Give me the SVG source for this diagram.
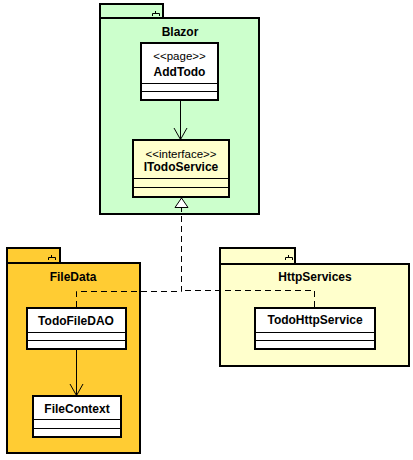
<svg xmlns="http://www.w3.org/2000/svg" width="413" height="460" viewBox="0 0 413 460">
<defs>
<style>
.pkg{stroke:#000;stroke-width:2}
.cls{fill:#fff;stroke:#000;stroke-width:2}
.sep{stroke:#000;stroke-width:1}
.ico{fill:none;stroke:#000;stroke-width:1}
.t{font-family:"Liberation Sans",Arial,sans-serif;font-size:12px;font-weight:bold;text-anchor:middle;fill:#000}
.s{font-family:"Liberation Sans",Arial,sans-serif;font-size:11.5px;text-anchor:middle;fill:#000}
.c{fill:none;stroke:#000;stroke-width:1}
.d{fill:none;stroke:#000;stroke-width:1;stroke-dasharray:6,4}
</style>
</defs>
<rect width="413" height="460" fill="#fff"/>
<g id="Blazor">
<rect class="pkg" x="100" y="4" width="63" height="14" fill="#CCFFCC"/>
<rect class="pkg" x="100" y="18" width="159" height="196" fill="#CCFFCC"/>
<path class="ico" d="M155.5 11V13.5M152.5 16V13.5H159.5V16"/>
<text class="t" x="180" y="36">Blazor</text>
</g>
<g id="FileData">
<rect class="pkg" x="7" y="248" width="53" height="15" fill="#FFCC33"/>
<rect class="pkg" x="7" y="263" width="133" height="190" fill="#FFCC33"/>
<path class="ico" d="M51.5 255V257.5M48.5 260V257.5H55.5V260"/>
<text class="t" x="73" y="281">FileData</text>
</g>
<g id="HttpServices">
<rect class="pkg" x="220" y="248" width="75" height="16" fill="#FFFFCC"/>
<rect class="pkg" x="220" y="264" width="189" height="102" fill="#FFFFCC"/>
<path class="ico" d="M288.5 255V257.5M285.5 260V257.5H292.5V260"/>
<text class="t" x="315" y="281">HttpServices</text>
</g>
<g id="AddTodo">
<rect class="cls" x="141" y="43" width="77" height="57"/>
<path class="sep" d="M141 83.5H218M141 91.5H218"/>
<text class="s" x="179.5" y="60">&lt;&lt;page&gt;&gt;</text>
<text class="t" x="179.5" y="76">AddTodo</text>
</g>
<g id="ITodoService">
<rect class="cls" x="133" y="140" width="96" height="57" style="fill:#FFFFCC"/>
<path class="sep" d="M133 178.5H229M133 187.5H229"/>
<text class="s" x="181" y="158">&lt;&lt;interface&gt;&gt;</text>
<text class="t" x="181" y="171">ITodoService</text>
</g>
<g id="TodoFileDAO">
<rect class="cls" x="27" y="308" width="99" height="41"/>
<path class="sep" d="M27 332.5H126M27 340.5H126"/>
<text class="t" x="76" y="325">TodoFileDAO</text>
</g>
<g id="FileContext">
<rect class="cls" x="33" y="396" width="88" height="41"/>
<path class="sep" d="M33 419.5H121M33 428.5H121"/>
<text class="t" x="77" y="413">FileContext</text>
</g>
<g id="TodoHttpService">
<rect class="cls" x="255" y="308" width="120" height="41"/>
<path class="sep" d="M255 332.5H375M255 340.5H375"/>
<text class="t" x="315" y="324">TodoHttpService</text>
</g>
<g id="connectors">
<path class="c" d="M180.5 101V139"/>
<path class="c" d="M174 128L180.5 139.5L187 128"/>
<path class="c" d="M76.5 350V395"/>
<path class="c" d="M70 384L76.5 395.5L83 384"/>
<path class="d" d="M76.5 307V291.5H181.5V208"/>
<path class="d" d="M314.5 307V290.5H181.5"/>
<path d="M181.5 198L175 207.5H188Z" fill="#fff" stroke="#000" stroke-width="1"/>
</g>
</svg>
